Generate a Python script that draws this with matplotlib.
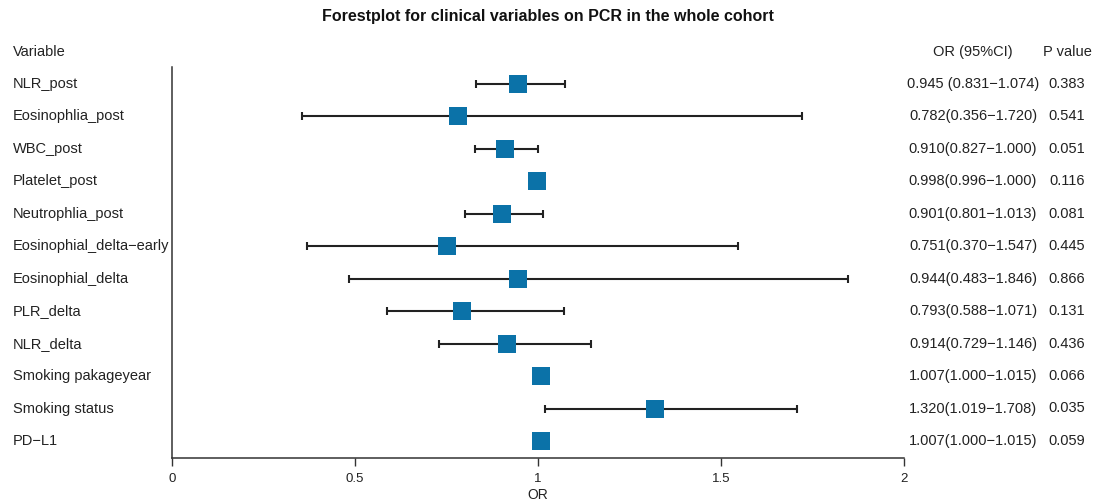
import matplotlib.pyplot as plt
import matplotlib.transforms as mtransforms

plt.rcParams['font.family'] = ['Liberation Sans', 'DejaVu Sans']

variables = ["NLR_post", "Eosinophlia_post", "WBC_post", "Platelet_post",
             "Neutrophlia_post", "Eosinophial_delta\u2212early", "Eosinophial_delta",
             "PLR_delta", "NLR_delta", "Smoking pakageyear", "Smoking status", "PD\u2212L1"]
odds = [0.945, 0.782, 0.910, 0.998, 0.901, 0.751, 0.944, 0.793, 0.914, 1.007, 1.320, 1.007]
lower = [0.831, 0.356, 0.827, 0.996, 0.801, 0.370, 0.483, 0.588, 0.729, 1.000, 1.019, 1.000]
upper = [1.074, 1.720, 1.000, 1.000, 1.013, 1.547, 1.846, 1.071, 1.146, 1.015, 1.708, 1.015]
or_text = ["0.945 (0.831\u22121.074)", "0.782(0.356\u22121.720)", "0.910(0.827\u22121.000)",
           "0.998(0.996\u22121.000)", "0.901(0.801\u22121.013)", "0.751(0.370\u22121.547)",
           "0.944(0.483\u22121.846)", "0.793(0.588\u22121.071)", "0.914(0.729\u22121.146)",
           "1.007(1.000\u22121.015)", "1.320(1.019\u22121.708)", "1.007(1.000\u22121.015)"]
p_values = ["0.383", "0.541", "0.051", "0.116", "0.081", "0.445",
            "0.866", "0.131", "0.436", "0.066", "0.035", "0.059"]
xticks = [0, 0.5, 1, 1.5, 2]
xticklabels = ["0", "0.5", "1", "1.5", "2"]

W, H = 1094, 500
fig = plt.figure(figsize=(W / 100, H / 100), dpi=100)

# axes placed in pixel terms: x 0..2 -> px 172..904, y px 67..458
x0, x1, ytop, ybot = 172, 904, 67, 458
ax = fig.add_axes([x0 / W, 1 - ybot / H, (x1 - x0) / W, (ybot - ytop) / H])

row0, step = 84, 32.45
ax.set_ylim((ybot - row0) / step, (ytop - row0) / step)
ax.set_xlim(0, 2)

rows = list(range(len(variables)))
xerr = [[o - l for o, l in zip(odds, lower)], [u - o for o, u in zip(odds, upper)]]
ax.errorbar(odds, rows, xerr=xerr, fmt='none', ecolor='#222222', elinewidth=1.5,
            capsize=2.8, capthick=1.5, zorder=2)
ax.scatter(odds, rows, marker='s', s=150, color='#0b72a8', zorder=3, linewidths=0)

for s in ['top', 'right']:
    ax.spines[s].set_visible(False)
ax.spines['left'].set_color('#333333')
ax.spines['bottom'].set_color('#333333')
ax.spines['left'].set_linewidth(1.1)
ax.spines['bottom'].set_linewidth(1.1)
ax.set_yticks([])
ax.set_xticks(xticks)
ax.set_xticklabels(xticklabels, fontsize=9.5, color='#222222')
ax.tick_params(axis='x', length=6, width=1.0, color='#333333', pad=5)
ax.set_xlabel("OR", fontsize=10, labelpad=2, color='#222222')

fs = 10.5
trans = mtransforms.blended_transform_factory(fig.transFigure, ax.transData)
for i, name in enumerate(variables):
    ax.text(13 / W, i, name, transform=trans, ha='left', va='center', fontsize=fs,
            color='#222222', clip_on=False)
    ax.text(973 / W, i, or_text[i], transform=trans, ha='center', va='center',
            fontsize=fs, color='#222222', clip_on=False)
    ax.text(1067 / W, i, p_values[i], transform=trans, ha='center', va='center',
            fontsize=fs, color='#222222', clip_on=False)

hy = 1 - 52 / H
fig.text(13 / W, hy, "Variable", ha='left', va='center', fontsize=fs, color='#222222')
fig.text(973 / W, hy, "OR (95%CI)", ha='center', va='center', fontsize=fs, color='#222222')
fig.text(1067 / W, hy, "P value", ha='center', va='center', fontsize=fs, color='#222222')
fig.text(548 / W, 1 - 17 / H, "Forestplot for clinical variables on PCR in the whole cohort",
         ha='center', va='center', fontsize=11.5, fontweight='bold', color='#111111')

fig.savefig("out.png", dpi=100)
